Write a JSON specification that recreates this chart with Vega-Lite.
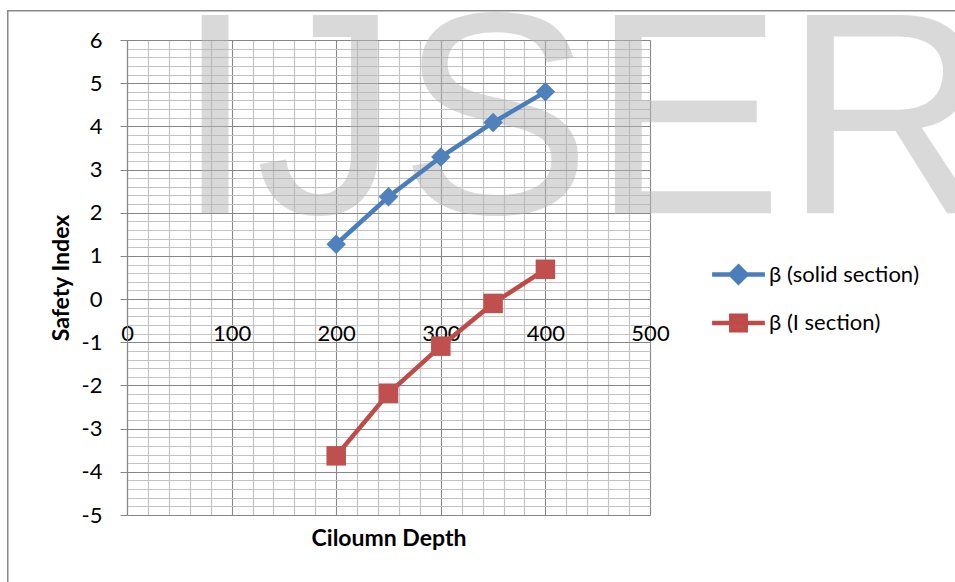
{
  "$schema": "https://vega.github.io/schema/vega-lite/v6.json",
  "width": 523,
  "height": 475,
  "autosize": {"type": "none"},
  "padding": {"left": 127, "top": 40, "right": 305, "bottom": 67},
  "background": "white",
  "config": {
    "view": {"stroke": null},
    "font": "Lato",
    "legend": {
      "orient": "none",
      "legendX": 597,
      "legendY": 220,
      "padding": 0,
      "title": null,
      "labelFont": "Lato",
      "labelFontSize": 22,
      "labelColor": "black",
      "labelLimit": 0,
      "symbolSize": 576,
      "symbolStrokeWidth": 4.5,
      "rowPadding": 14.5,
      "labelOffset": 16
    }
  },
  "datasets": {
    "series": [
      {"depth": 200, "beta": 1.27, "series": "β (solid section)"},
      {"depth": 250, "beta": 2.37, "series": "β (solid section)"},
      {"depth": 300, "beta": 3.29, "series": "β (solid section)"},
      {"depth": 350, "beta": 4.09, "series": "β (solid section)"},
      {"depth": 400, "beta": 4.8, "series": "β (solid section)"},
      {"depth": 200, "beta": -3.63, "series": "β (I section)"},
      {"depth": 250, "beta": -2.18, "series": "β (I section)"},
      {"depth": 300, "beta": -1.09, "series": "β (I section)"},
      {"depth": 350, "beta": -0.1, "series": "β (I section)"},
      {"depth": 400, "beta": 0.69, "series": "β (I section)"}
    ]
  },
  "layer": [
    {
      "data": {"values": [{}]},
      "mark": {"type": "rect", "filled": false, "stroke": "#898989", "strokeWidth": 1.5},
      "encoding": {
        "x": {
          "datum": -114, "type": "quantitative",
          "scale": {"domain": [0, 500], "nice": false, "zero": false},
          "axis": {
            "orient": "bottom",
            "values": [0,20,40,60,80,100,120,140,160,180,200,220,240,260,280,300,320,340,360,380,400,420,440,460,480,500],
            "grid": true, "gridColor": "#c3c3c3", "gridWidth": 1.2,
            "labels": false, "ticks": false, "domain": false, "title": null
          }
        },
        "x2": {"datum": 1000},
        "y": {
          "datum": 6.68, "type": "quantitative",
          "scale": {"domain": [-5, 6], "nice": false, "zero": false},
          "axis": {
            "orient": "left",
            "values": [-5,-4.8,-4.6,-4.4,-4.2,-4,-3.8,-3.6,-3.4,-3.2,-3,-2.8,-2.6,-2.4,-2.2,-2,-1.8,-1.6,-1.4,-1.2,-1,-0.8,-0.6,-0.4,-0.2,0,0.2,0.4,0.6,0.8,1,1.2,1.4,1.6,1.8,2,2.2,2.4,2.6,2.8,3,3.2,3.4,3.6,3.8,4,4.2,4.4,4.6,4.8,5,5.2,5.4,5.6,5.8,6],
            "grid": true, "gridColor": "#c3c3c3", "gridWidth": 1.2,
            "labels": false, "ticks": false, "domain": false, "title": null
          }
        },
        "y2": {"datum": -10}
      }
    },
    {
      "data": {"values": [{}]},
      "mark": {"type": "text", "align": "left", "baseline": "alphabetic", "font": "Liberation Sans", "fontSize": 288, "color": "#b5b5b5", "opacity": 0.5},
      "encoding": {
        "x": {
          "datum": 46, "type": "quantitative",
          "axis": {
            "orient": "bottom",
            "values": [0,100,200,300,400,500],
            "grid": true, "gridColor": "#878787", "gridWidth": 1,
            "labels": false, "ticks": false, "domain": false, "title": null
          }
        },
        "y": {
          "datum": 1.99, "type": "quantitative",
          "axis": {
            "orient": "left",
            "values": [-5,-4,-3,-2,-1,0,1,2,3,4,5,6],
            "grid": true, "gridColor": "#878787", "gridWidth": 1,
            "domain": true, "domainColor": "#878787", "domainWidth": 1.2,
            "ticks": true, "tickColor": "#878787", "tickSize": 7,
            "labelFont": "Lato", "labelFontSize": 22, "labelColor": "black",
            "labelPadding": 18, "labelFlush": false, "labelOverlap": false,
            "labelExpr": "replace(datum.label, '−', '-')",
            "title": "Safety Index", "titleFont": "Lato", "titleFontSize": 23,
            "titleFontWeight": "bold", "titleColor": "black",
            "titleAngle": -90, "titleX": -59, "titleY": 237.5,
            "titleBaseline": "alphabetic", "titleAlign": "center"
          }
        },
        "text": {"value": "IJSER"}
      }
    },
    {
      "data": {"name": "series"},
      "mark": {"type": "line", "strokeWidth": 4.5},
      "encoding": {
        "x": {
          "field": "depth", "type": "quantitative",
          "axis": {
            "orient": "bottom",
            "values": [0,100,200,300,400,500],
            "offset": -216,
            "grid": false, "ticks": false,
            "domain": true, "domainColor": "#878787", "domainWidth": 1.2,
            "labelFont": "Lato", "labelFontSize": 22, "labelColor": "black",
            "labelPadding": 24.5, "labelFlush": false, "labelOverlap": false, "labelBound": false,
            "title": "Ciloumn Depth", "titleFont": "Lato", "titleFontSize": 23,
            "titleFontWeight": "bold", "titleColor": "black",
            "titleX": 261.5, "titleY": 246, "titleBaseline": "alphabetic", "titleAlign": "center"
          }
        },
        "y": {"field": "beta", "type": "quantitative", "axis": null},
        "color": {
          "field": "series", "type": "nominal",
          "scale": {"domain": ["β (solid section)", "β (I section)"], "range": ["#4a7ebb", "#be4b48"]},
          "legend": {
            "encode": {
              "symbols": {
                "update": {
                  "shape": {"signal": "datum.value === 'β (solid section)' ? 'M-2.2,0H2.2M0,-0.65L0.65,0L0,0.65L-0.65,0Z' : 'M-2.2,0H2.2M-0.6,-0.6H0.6V0.6H-0.6Z'"},
                  "stroke": {"signal": "datum.value === 'β (solid section)' ? '#4a7ebb' : '#be4b48'"},
                  "fill": {"signal": "datum.value === 'β (solid section)' ? '#4f81bd' : '#c0504d'"},
                  "strokeWidth": {"value": 4.5},
                  "opacity": {"value": 1}
                }
              }
            }
          }
        }
      }
    },
    {
      "data": {"name": "series"},
      "transform": [{"filter": "datum.series === 'β (solid section)'"}],
      "mark": {"type": "point", "filled": true, "opacity": 1, "size": 380, "shape": "diamond", "color": "#4f81bd"},
      "encoding": {
        "x": {"field": "depth", "type": "quantitative", "axis": null},
        "y": {"field": "beta", "type": "quantitative", "axis": null}
      }
    },
    {
      "data": {"name": "series"},
      "transform": [{"filter": "datum.series === 'β (I section)'"}],
      "mark": {"type": "point", "filled": true, "opacity": 1, "size": 380, "shape": "square", "color": "#c0504d"},
      "encoding": {
        "x": {"field": "depth", "type": "quantitative", "axis": null},
        "y": {"field": "beta", "type": "quantitative", "axis": null}
      }
    }
  ],
  "resolve": {"axis": {"x": "independent", "y": "independent"}}
}
